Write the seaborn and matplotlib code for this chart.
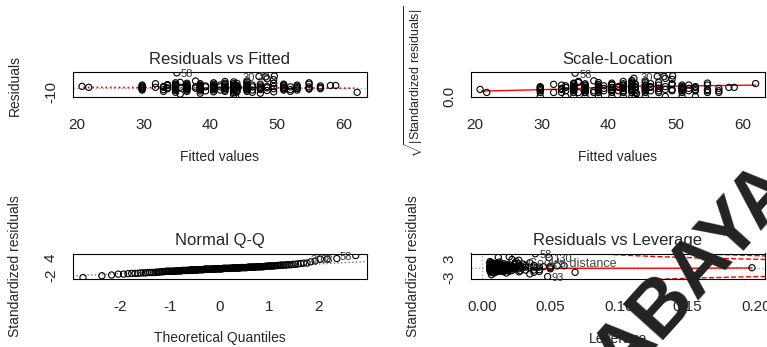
import matplotlib
matplotlib.use("Agg")
import matplotlib.pyplot as plt
import seaborn as sns
import numpy as np
import pandas as pd
from statistics import NormalDist

# fitted value of each cluster, the residuals in it and its leverage
group_fitted = [20.8, 21.8, 29.8, 31.8, 33.0, 33.6, 34.8, 35.5, 36.5, 37.8, 38.5,
                39.3, 40.5, 41.5, 42.2, 43.5, 44.0, 44.2, 45.5, 46.3, 47.5, 48.5,
                49.5, 51.0, 52.0, 53.0, 54.8, 56.5, 58.0, 58.8, 62.0]
group_resid = [
    [3], [1], [-5, 2, 6, -3, 0, 4, -1], [9, 1], [-4, 3, -8, 1], [5, -2, 0, 7],
    [-10, -3, 2, 5, 8, 0, -6, 3, -1, 11, -4, 6], [12, -14, 1],
    [4, -2, 7, -5, 1, 10, -8, 3, -1, 5, -3, 0], [15, -1, 2],
    [-12, 3, 6, -4, 0, 9, -7, 2, -2, 5, 1], [2, -7, 4],
    [5, -3, 0, 8, -9, 11, -1, 3, -5, 2], [-5, 2, 6],
    [14, -2, 4, -8, 7, 0, -5, 2, 10, -1], [13, -4, 1, 6, -11, -16, 9, 3, -2, -7, 0, 4],
    [3, -6, 0, 10, -3, 5, -9, 1], [0.5], [5, -3, 8, -8, 0, 12, -5, 2, 15, -1, 4],
    [-5, 2, -10, 6], [4, -4, -12, 8, 1, -2], [20, 0, -6, 3], [18, 3, -9, 10, -2],
    [6, -2, 1, -5, 4, 0, -3, 8], [-4, 2, -8], [3, -5, 0, 6, -2], [8, -1, -3, 2, 11],
    [4, -2, 1], [5], [5], [-10]]
group_leverage = [0.045, 0.040, 0.012, 0.030, 0.020, 0.015, 0.008, 0.035, 0.010, 0.025,
                  0.009, 0.028, 0.011, 0.032, 0.013, 0.007, 0.016, 0.197, 0.006, 0.038,
                  0.018, 0.022, 0.027, 0.014, 0.042, 0.019, 0.024, 0.050, 0.055, 0.060,
                  0.068]

# observations that R labels
flag_names = ["58", "30", "38", "130", "93"]
flag_fitted = [35.0, 47.3, 49.6, 48.3, 43.8]
flag_resid = [33, 25, 26, 24, -20]
flag_leverage = [0.039, 0.012, 0.020, 0.049, 0.048]

# red smoother lines
rf_smooth_x = [21, 30, 35, 40, 45, 50, 55, 62]
rf_smooth_y = [1.0, 0.5, 0.5, 0.0, 0.5, 0.0, -0.5, -1.0]
sl_smooth_x = [21, 28, 33, 38, 40, 45, 50, 55, 62]
sl_smooth_y = [0.5, 0.6, 0.68, 0.81, 0.9, 0.95, 0.95, 1.0, 1.05]
lev_smooth_x = [0.004, 0.01, 0.02, 0.04, 0.07, 0.1, 0.15, 0.197]
lev_smooth_y = [0.3, -0.2, -0.3, -0.2, -0.1, -0.1, -0.1, 0.0]

sigma = 7.3
n_params = 4
cook_levels = [0.5, 1.0]

rows = []
for f, rs, h in zip(group_fitted, group_resid, group_leverage):
    for r in rs:
        rows.append((f, r, h, ""))
for name, f, r, h in zip(flag_names, flag_fitted, flag_resid, flag_leverage):
    rows.append((f, r, h, name))
df = pd.DataFrame(rows, columns=["fitted", "resid", "leverage", "label"])
df["std_resid"] = df["resid"] / (sigma * np.sqrt(1 - df["leverage"]))
df["sqrt_abs"] = np.sqrt(np.abs(df["std_resid"]))

qq = df.sort_values("std_resid").reset_index(drop=True)
n = len(qq)
nd = NormalDist()
qq["theoretical"] = [nd.inv_cdf((i + 0.5) / n) for i in range(n)]

sns.set_style("white")
plt.rcParams["font.family"] = ["Liberation Sans", "DejaVu Sans"]
plt.rcParams["mathtext.fontset"] = "custom"
plt.rcParams["mathtext.rm"] = "Liberation Sans"
plt.rcParams["mathtext.it"] = "Liberation Sans"

W, H = 767, 347
fig = plt.figure(figsize=(W / 100, H / 100), dpi=100)


def add_box(l, t, r, b):
    return fig.add_axes([l / W, 1 - b / H, (r - l) / W, (b - t) / H])


def ftext(x, y, s, **kw):
    fig.text(x / W, 1 - y / H, s, ha="center", va="center", **kw)


def style(ax, xticks, xlabels, yticks, ylabels):
    for sp in ax.spines.values():
        sp.set_visible(True)
        sp.set_linewidth(0.8)
        sp.set_color("black")
    ax.set_xticks(xticks)
    ax.set_xticklabels(xlabels)
    ax.set_yticks(yticks)
    ax.set_yticklabels(ylabels)
    ax.tick_params(direction="out", length=6.5, width=0.8, labelsize=11, color="black")
    ax.tick_params(axis="x", pad=8.5)
    ax.tick_params(axis="y", pad=4, labelrotation=90)
    for lb in ax.get_yticklabels():
        lb.set_va("center")
    ax.set_xlabel("")
    ax.set_ylabel("")


def points(ax, x, y):
    sns.scatterplot(x=x, y=y, ax=ax, marker="o", s=20, facecolor="none",
                    edgecolor="black", linewidth=0.8, legend=False, zorder=3)


def ids(ax, sub, xcol, ycol, names):
    mid = sum(ax.get_xlim()) / 2
    for _, row in sub[sub["label"].isin(names)].iterrows():
        right = row[xcol] < mid
        ax.annotate(row["label"], (row[xcol], row[ycol]),
                    xytext=(3 if right else -3, -1), textcoords="offset points",
                    ha="left" if right else "right", va="center", fontsize=8,
                    color="#333333", annotation_clip=False)


ax1 = add_box(72.7, 71.5, 366.5, 97.5)
ax2 = add_box(470.7, 71.5, 765, 97.5)
ax3 = add_box(72.7, 253.5, 366.5, 279)
ax4 = add_box(470.7, 253.5, 765, 279)

# Residuals vs Fitted
ax1.axhline(0, color="#aaaaaa", linestyle=":", linewidth=1)
points(ax1, df["fitted"], df["resid"])
sns.lineplot(x=rf_smooth_x, y=rf_smooth_y, ax=ax1, color="red", linestyle=":",
             linewidth=1.2, estimator=None, sort=False)
ax1.set_xlim(19.4, 63.4)
ax1.set_ylim(-21.5, 36)
style(ax1, [20, 30, 40, 50, 60], ["20", "30", "40", "50", "60"],
      [-10, 0, 10, 20, 30], ["-10", "", "", "", ""])
ids(ax1, df, "fitted", "resid", ["58", "30", "38"])

# Scale-Location
points(ax2, df["fitted"], df["sqrt_abs"])
sns.lineplot(x=sl_smooth_x, y=sl_smooth_y, ax=ax2, color="red", linewidth=1,
             estimator=None, sort=False)
ax2.set_xlim(19.4, 63.4)
ax2.set_ylim(-0.09, 2.3)
style(ax2, [20, 30, 40, 50, 60], ["20", "30", "40", "50", "60"],
      [0, 0.5, 1.0, 1.5, 2.0], ["0.0", "", "", "", ""])
ids(ax2, df, "fitted", "sqrt_abs", ["58", "30", "38"])

# Normal Q-Q
q1, q3 = np.percentile(qq["std_resid"], [25, 75])
t1, t3 = nd.inv_cdf(0.25), nd.inv_cdf(0.75)
slope = (q3 - q1) / (t3 - t1)
icpt = q1 - slope * t1
ax3.axline((0, icpt), slope=slope, color="#777777", linestyle=":", linewidth=1)
points(ax3, qq["theoretical"], qq["std_resid"])
ax3.set_xlim(-2.96, 2.97)
ax3.set_ylim(-3.3, 5.3)
style(ax3, [-2, -1, 0, 1, 2], ["-2", "-1", "0", "1", "2"],
      list(range(-3, 6)), ["", "-2", "", "", "", "", "", "4", ""])
ids(ax3, qq, "theoretical", "std_resid", ["58", "30", "38"])

# Residuals vs Leverage
ax4.axhline(0, color="#aaaaaa", linestyle=":", linewidth=1)
ax4.axvline(0, color="#aaaaaa", linestyle=":", linewidth=1)
points(ax4, df["leverage"], df["std_resid"])
sns.lineplot(x=lev_smooth_x, y=lev_smooth_y, ax=ax4, color="red", linewidth=1,
             estimator=None, sort=False)
hh = np.linspace(0.01, 0.21, 200)
for c in cook_levels:
    bound = np.sqrt(c * n_params * (1 - hh) / hh)
    ax4.plot(hh, bound, color="red", linestyle="--", linewidth=1)
    ax4.plot(hh, -bound, color="red", linestyle="--", linewidth=1)
ax4.set_xlim(-0.0081, 0.2065)
ax4.set_ylim(-3.6, 4.7)
style(ax4, [0, 0.05, 0.10, 0.15, 0.20], ["0.00", "0.05", "0.10", "0.15", "0.20"],
      list(range(-3, 5)), ["-3", "", "", "", "", "", "3", ""])
ids(ax4, df, "leverage", "std_resid", ["58", "130", "93"])
ax4.plot([0.049, 0.10], [0.68, 0.68], transform=ax4.transAxes, color="red",
         linestyle="--", linewidth=1)
ax4.text(0.195, 0.6, "Cook's distance", transform=ax4.transAxes, fontsize=9,
         color="#444444", va="center", ha="left")

# titles and axis labels
ftext(219.5, 60, "Residuals vs Fitted", fontsize=12)
ftext(617.8, 60, "Scale-Location", fontsize=12)
ftext(219.5, 240, "Normal Q-Q", fontsize=12)
ftext(617.8, 240, "Residuals vs Leverage", fontsize=12)
ftext(219.5, 157, "Fitted values", fontsize=10)
ftext(617.8, 157, "Fitted values", fontsize=10)
ftext(219.5, 338, "Theoretical Quantiles", fontsize=10)
ftext(617.8, 339, "Leverage", fontsize=10)
ftext(15, 85, "Residuals", fontsize=10, rotation=90)
ftext(414, 82, r"$\sqrt{|\mathrm{Standardized\ residuals}|}$", fontsize=9, rotation=90)
ftext(15, 266, "Standardized residuals", fontsize=10, rotation=90)
ftext(413, 266, "Standardized residuals", fontsize=10, rotation=90)

# watermark across the lower right
ftext(695, 273, "ABAYA", fontsize=56, fontweight="bold", color="#222222",
      rotation=48, rotation_mode="anchor")

fig.savefig("out.png", dpi=100)
